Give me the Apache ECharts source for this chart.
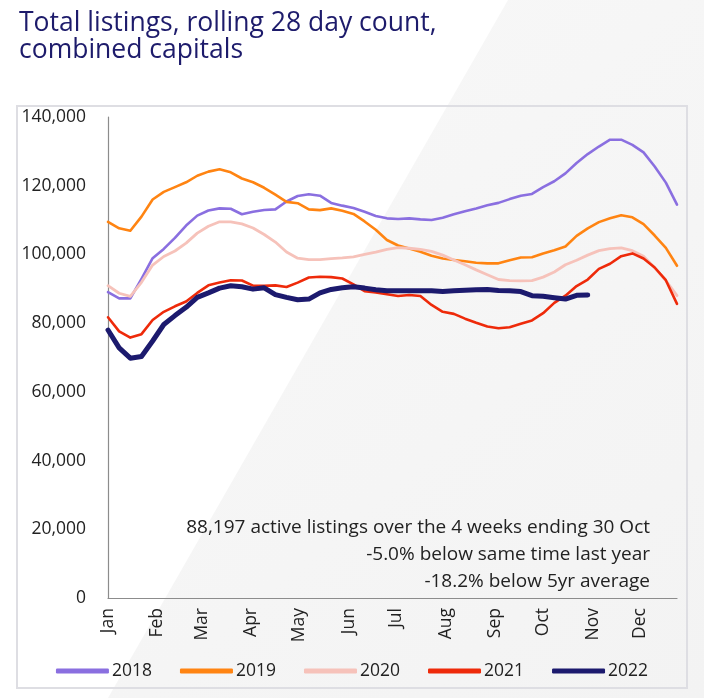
<!DOCTYPE html>
<html>
<head>
<meta charset="utf-8">
<script src="https://cdn.jsdelivr.net/npm/echarts@6/dist/echarts.min.js"></script>
<style>
html,body{margin:0;padding:0;background:#fff;}
#chart{width:704px;height:698px;}
</style>
</head>
<body>
<div id="chart"></div>
<script>
// Weekly points (rolling 28-day total listings), week 0 = start of January
const seriesNames = ['2018', '2019', '2020', '2021', '2022'];
const monthLabels = ['Jan','Feb','Mar','Apr','May','Jun','Jul','Aug','Sep','Oct','Nov','Dec'];
const monthStartDays = [0,31,59,90,120,151,181,212,243,273,304,334];
const yTicks = [0, 20000, 40000, 60000, 80000, 100000, 120000, 140000];

const v2018 = [89000,87200,87200,92900,98900,101600,104800,108400,111300,112800,113400,113300,111700,112400,112950,113100,115400,117000,117500,117100,115000,114200,113500,112400,111200,110500,110300,110500,110200,110000,110700,111700,112600,113400,114300,115000,116100,117100,117600,119600,121300,123600,126600,129200,131400,133400,133400,131900,129700,125600,120900,114500];
const v2019 = [109500,107600,106900,111000,116000,118200,119600,121000,122900,124100,124800,123900,122100,121000,119400,117400,115300,114900,113100,112900,113400,112700,111800,109600,107200,104200,102600,101700,100800,99600,98800,98400,98000,97600,97400,97400,98300,99100,99200,100300,101200,102300,105400,107600,109400,110500,111400,110800,108800,105500,101900,96700];
const v2020 = [90900,88700,87800,91900,96900,99400,101000,103300,106200,108200,109500,109500,108900,107700,105800,103600,100700,98900,98500,98500,98800,99000,99300,100000,100700,101500,102000,101800,101500,100900,99800,98400,97000,95500,94100,92700,92350,92300,92400,93400,94900,97000,98300,99800,101100,101700,101900,101100,99500,96100,92400,88000];
const v2021 = [81700,77600,75800,76800,80900,83300,84900,86300,88800,91000,91800,92500,92400,90900,90900,91000,90500,91800,93300,93500,93400,93000,91300,89300,88900,88400,87900,88200,87900,85300,83300,82700,81300,80100,79000,78500,78800,79800,80800,82900,85900,88000,90800,92700,95800,97300,99500,100300,98800,96200,92500,85600];
const v2022 = [78000,72800,69800,70300,74800,79600,82200,84600,87500,88800,90200,90900,90600,89900,90300,88300,87500,86800,87000,88800,89800,90300,90600,90200,89700,89400,89400,89400,89400,89400,89200,89400,89600,89700,89800,89500,89400,89200,88000,87800,87400,87000,88100,88197];

const annotationLines = [
  '88,197 active listings over the 4 weeks ending 30 Oct',
  '-5.0% below same time last year',
  '-18.2% below 5yr average'
];
const titleText = 'Total listings, rolling 28 day count,\ncombined capitals';

const colors = ['#8a6fe0', '#ff8412', '#f6c2ba', '#ee2a0a', '#1c1a6e'];
const widths = [2.6, 2.6, 2.8, 2.6, 5];
const allValues = [v2018, v2019, v2020, v2021, v2022];

function toPoints(arr) {
  return arr.map((v, i) => [i * 7, v]);
}

const FONT = "'Open Sans', 'DejaVu Sans', sans-serif";

const chart = echarts.init(document.getElementById('chart'), null, {renderer: 'canvas'});
const option = {
  animation: false,
  backgroundColor: '#ffffff',
  textStyle: {fontFamily: FONT},
  title: {
    text: titleText,
    left: 14,
    top: 5,
    textStyle: {color: '#1d1b6b', fontSize: 26.5, fontWeight: 'normal', fontFamily: FONT, lineHeight: 27}
  },
  graphic: [
    {
      type: 'polygon', z: -10, silent: true,
      shape: {points: [[508, 0], [704, 0], [704, 698], [108, 698]]},
      style: {fill: new echarts.graphic.LinearGradient(0, 0, 1, 1, [
        {offset: 0, color: '#f8f8f8'}, {offset: 1, color: '#f3f3f3'}
      ])}
    },
    {
      type: 'rect', z: -5, silent: true,
      shape: {x: 17, y: 106, width: 670, height: 582},
      style: {fill: 'transparent', stroke: '#dedee3', lineWidth: 2}
    },
    {
      type: 'group', right: 54, top: 518,
      children: annotationLines.map((t, i) => ({
        type: 'text', right: 0, top: i * 27,
        style: {text: t, fill: '#222', font: '19px ' + FONT, textAlign: 'right'}
      }))
    }
  ],
  legend: {
    data: seriesNames,
    left: 'center',
    top: 657,
    icon: 'roundRect',
    itemWidth: 53,
    itemHeight: 5,
    itemGap: 28,
    textStyle: {color: '#222', fontSize: 17.5, fontFamily: FONT, padding: [0, 0, 0, -2]}
  },
  grid: {left: 108, right: 27, top: 117, bottom: 100},
  xAxis: {
    type: 'value',
    min: 0,
    max: 357,
    splitLine: {show: false},
    axisLine: {show: true, onZero: false, lineStyle: {color: '#8c8c8c', width: 1.2}},
    axisTick: {show: false},
    axisLabel: {
      customValues: monthStartDays,
      rotate: 90,
      margin: 10,
      color: '#222',
      fontSize: 17.5,
      fontFamily: FONT,
      formatter: function (v) {
        const idx = monthStartDays.indexOf(v);
        return idx >= 0 ? monthLabels[idx] : '';
      }
    }
  },
  yAxis: {
    type: 'value',
    min: yTicks[0],
    max: yTicks[yTicks.length - 1],
    interval: yTicks[1] - yTicks[0],
    splitLine: {show: false},
    axisLine: {show: true, lineStyle: {color: '#8c8c8c', width: 1.2}},
    axisTick: {show: false},
    axisLabel: {
      margin: 22,
      color: '#222',
      fontSize: 17.5,
      fontFamily: FONT,
      formatter: function (v) { return v.toLocaleString('en-US'); }
    }
  },
  series: seriesNames.map((name, k) => ({
    name: name,
    type: 'line',
    data: toPoints(allValues[k]),
    showSymbol: false,
    symbol: 'none',
    smooth: false,
    color: colors[k],
    lineStyle: {color: colors[k], width: widths[k], join: 'round', cap: 'round'},
    itemStyle: {color: colors[k]},
    z: 2 + k
  }))
};
chart.setOption(option);
</script>
</body>
</html>
